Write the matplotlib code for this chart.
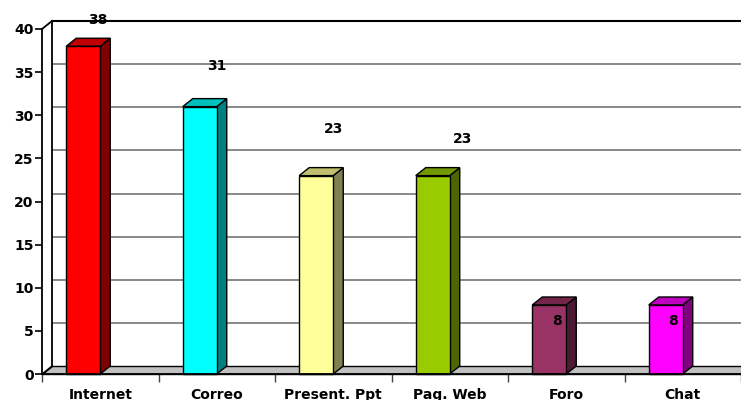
import matplotlib

matplotlib.use("Agg")

import matplotlib.pyplot as plt
from matplotlib.patches import Polygon, Rectangle

# data
CATEGORIES = ["Internet", "Correo", "Present. Ppt", "Pag. Web", "Foro", "Chat"]
VALUES = [38, 31, 23, 23, 8, 8]

# styles: (front, side, top)
COLORS = [
    ("#FF0000", "#800000", "#C00000"),
    ("#00FFFF", "#008080", "#00C0C0"),
    ("#FFFF99", "#808050", "#C0C070"),
    ("#99CC00", "#4D6600", "#739900"),
    ("#993366", "#4D1A33", "#732649"),
    ("#FF00FF", "#800080", "#C000C0"),
]
# label offsets (category units, value units) as Excel placed them
LABEL_DX = [-0.02, 0.0, 0.0, 0.11, -0.08, -0.08]
LABEL_DY = [3.0, 4.7, 5.4, 4.2, -1.9, -1.9]

W, H = 741, 400
DX = 10 / 116.5   # depth offset, x
DY = 8 / 8.625    # depth offset, y
BAR_W = 0.292
BAR_SHIFT = -0.292

FONT = dict(family="DejaVu Sans", fontweight="bold", fontsize=10)

fig = plt.figure(figsize=(W / 100, H / 100), dpi=100)
ax = fig.add_axes([42 / W, (H - 374) / H, (W - 42) / W, 345 / H])
n = len(CATEGORIES)
ax.set_xlim(0, n)
ax.set_ylim(0, 40)

# back wall: gridlines and borders
for v in range(5, 40, 5):
    ax.plot([DX, n + DX], [v + DY, v + DY], color="#808080", lw=1.3,
            clip_on=False, zorder=1)
ax.plot([DX, n + 1], [40 + DY, 40 + DY], color="black", lw=1.5, clip_on=False, zorder=1)
ax.plot([DX, DX], [DY, 40 + DY], color="black", lw=1.3, clip_on=False, zorder=1)
ax.plot([0, DX], [40, 40 + DY], color="black", lw=1.3, clip_on=False, zorder=1)

# floor
floor = Polygon([(0, 0), (n + 1, 0), (n + 1, DY), (DX, DY)], closed=True,
                facecolor="#C0C0C0", edgecolor="black", lw=1.0, clip_on=False, zorder=2)
ax.add_patch(floor)
ax.plot([0, DX], [0, DY], color="black", lw=1.0, clip_on=False, zorder=2)

# bars
for i, (v, (cf, cs, ct)) in enumerate(zip(VALUES, COLORS)):
    x0 = i + 0.5 - BAR_W / 2 + BAR_SHIFT / 2
    x1 = x0 + BAR_W
    ax.add_patch(Polygon([(x1, 0), (x1 + DX, DY), (x1 + DX, v + DY), (x1, v)],
                         facecolor=cs, edgecolor="black", lw=1.0, clip_on=False, zorder=3))
    ax.add_patch(Polygon([(x0, v), (x1, v), (x1 + DX, v + DY), (x0 + DX, v + DY)],
                         facecolor=ct, edgecolor="black", lw=1.0, clip_on=False, zorder=3))
    ax.add_patch(Rectangle((x0, 0), BAR_W, v, facecolor=cf, edgecolor="black",
                           lw=1.0, clip_on=False, zorder=4))
    ax.text(i + 0.5 + LABEL_DX[i], v + LABEL_DY[i], str(v), ha="center",
            va="center", zorder=5, **FONT)

# axes styling
for s in ("top", "right"):
    ax.spines[s].set_visible(False)
ax.spines["left"].set_linewidth(1.3)
ax.spines["bottom"].set_linewidth(1.3)
ax.spines["left"].set_zorder(6)
ax.spines["bottom"].set_zorder(6)
ax.set_yticks(range(0, 41, 5))
ax.set_yticklabels([str(t) for t in range(0, 41, 5)], **FONT)
ax.tick_params(axis="y", length=5, width=1.2, pad=1)
ax.set_xticks(range(n + 1))
ax.set_xticklabels([])
ax.set_xticks([i + 0.5 for i in range(n)], minor=True)
ax.set_xticklabels(CATEGORIES, minor=True, **FONT)
ax.tick_params(axis="x", which="major", length=6, width=1.0, color="#404040")
ax.tick_params(axis="x", which="minor", length=0, pad=10)
ax.patch.set_visible(False)

fig.savefig("out.png", dpi=100)
